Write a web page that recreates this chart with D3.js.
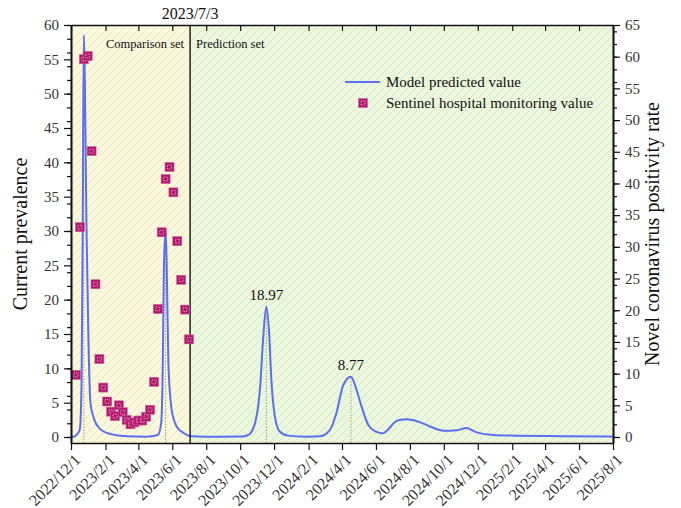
<!DOCTYPE html>
<html>
<head>
<meta charset="utf-8">
<script src="https://cdn.jsdelivr.net/npm/d3@7"></script>
<style>
  body { margin: 0; background: #fff; }
  svg { display: block; }
  svg text { font-family: 'Liberation Serif', 'Tinos', 'DejaVu Serif', serif; }
</style>
</head>
<body>
<div id="chart"></div>
<script>
// model curve (left axis)
const modelDates = [
  '2022-12-01', '2022-12-05', '2022-12-13', '2022-12-17', '2022-12-20', '2022-12-22', '2022-12-24',
  '2022-12-29', '2023-01-01', '2023-01-05', '2023-01-12', '2023-01-21', '2023-02-09', '2023-03-11',
  '2023-04-15', '2023-05-06', '2023-05-12', '2023-05-15', '2023-05-17', '2023-05-20', '2023-05-22',
  '2023-05-25', '2023-05-31', '2023-06-09', '2023-06-21', '2023-07-02', '2023-08-01', '2023-10-05',
  '2023-10-16', '2023-10-28', '2023-11-06', '2023-11-12', '2023-11-17', '2023-11-22', '2023-11-26',
  '2023-12-02', '2023-12-11', '2023-12-26', '2024-01-28', '2024-02-21', '2024-03-10', '2024-03-22',
  '2024-04-03', '2024-04-17', '2024-04-27', '2024-05-04', '2024-05-18', '2024-06-01', '2024-06-13',
  '2024-06-25', '2024-07-04', '2024-07-13', '2024-07-27', '2024-08-14', '2024-09-07', '2024-10-01',
  '2024-10-25', '2024-11-10', '2024-11-29', '2024-12-29', '2025-02-09', '2025-05-01', '2025-08-01'
];
const modelValues = [
  0.03, 0.05, 0.5, 1.2, 8, 30, 58.5,
  30, 15.6, 4.9, 2.5, 1.3, 0.45, 0.1,
  0.05, 0.3, 2.0, 10.8, 25, 30.2, 25,
  10.8, 3.9, 1.5, 0.6, 0.15, 0.05, 0.08,
  0.3, 2.1, 7.4, 15.2, 18.97, 15.2, 8.4,
  3.2, 0.8, 0.2, 0.05, 0.1, 1.0, 3.5,
  7.5, 8.77, 6.9, 5.0, 1.8, 0.78, 0.53,
  1.26, 2.1, 2.47, 2.6, 2.3, 1.5, 0.92,
  1.0, 1.3, 0.68, 0.29, 0.2, 0.12, 0.08
];

// sentinel hospital positivity (right axis), weekly
const sentinelDates = [
  '2022-12-10', '2022-12-17', '2022-12-24', '2022-12-31', '2023-01-07', '2023-01-14',
  '2023-01-21', '2023-01-28', '2023-02-04', '2023-02-11', '2023-02-18', '2023-02-25',
  '2023-03-04', '2023-03-11', '2023-03-18', '2023-03-25', '2023-04-01', '2023-04-08',
  '2023-04-15', '2023-04-22', '2023-04-29', '2023-05-06', '2023-05-13', '2023-05-20',
  '2023-05-27', '2023-06-03', '2023-06-10', '2023-06-17', '2023-06-24', '2023-07-01'
];
const sentinelValues = [
  9.8, 33.1, 59.6, 60.1, 45.1, 24.1,
  12.3, 7.8, 5.6, 4.0, 3.3, 5.0,
  3.9, 2.7, 2.0, 2.3, 2.6, 2.6,
  3.2, 4.3, 8.7, 20.2, 32.3, 40.7,
  42.6, 38.6, 30.9, 24.8, 20.1, 15.4
];

const peakDates = ['2022-12-24', '2023-05-20', '2023-11-17', '2024-04-17'];
const peakValues = [58.5, 30.2, 18.97, 8.77];
const peakLabels = ['', '', '18.97', '8.77'];

const splitDate = '2023-07-03';
const splitLabel = '2023/7/3';
const phaseLabels = ['Comparison set', 'Prediction set'];
const legendLabels = ['Model predicted value', 'Sentinel hospital monitoring value'];
const axisTitles = ['Current prevalence', 'Novel coronavirus positivity rate'];

const xTickDates = [
  '2022-12-01', '2023-02-01', '2023-04-01', '2023-06-01', '2023-08-01', '2023-10-01',
  '2023-12-01', '2024-02-01', '2024-04-01', '2024-06-01', '2024-08-01', '2024-10-01',
  '2024-12-01', '2025-02-01', '2025-04-01', '2025-06-01', '2025-08-01'
];

const FONT = "'Liberation Serif', 'Tinos', 'DejaVu Serif', serif";

const chart = {
  width: 681,
  height: 508,
  left: 71,
  right: 613,
  top: 25,
  bottom: 443,
  zero: 437,
  lineColor: '#5a6ff2',
  markColor: '#b0166a',

  init() {
    const parse = d3.timeParse('%Y-%m-%d');
    this.parse = parse;

    this.svg = d3.select('#chart').append('svg')
      .attr('width', this.width)
      .attr('height', this.height)
      .attr('font-family', FONT);

    this.x = d3.scaleTime()
      .domain([parse(xTickDates[0]), parse(xTickDates[xTickDates.length - 1])])
      .range([this.left, this.right]);
    this.yL = d3.scaleLinear().domain([0, 60]).range([this.zero, this.top]);
    this.yR = d3.scaleLinear().domain([0, 65]).range([this.zero, this.top]);

    this.drawBackground();
    this.drawPeaks();
    this.drawModel();
    this.drawSplit();
    this.drawSentinel();
    this.drawAxes();
    this.drawLegend();
  },

  drawBackground() {
    const defs = this.svg.append('defs');
    const pat = defs.append('pattern')
      .attr('id', 'hatch')
      .attr('patternUnits', 'userSpaceOnUse')
      .attr('width', 8)
      .attr('height', 8);
    pat.append('path')
      .attr('d', 'M-2,2 l4,-4 M0,8 l8,-8 M6,10 l4,-4')
      .attr('stroke', 'rgba(90,90,70,0.18)')
      .attr('stroke-width', 0.7);

    const xs = this.x(this.parse(splitDate));
    const h = this.bottom - this.top;
    this.svg.append('rect')
      .attr('x', this.left).attr('y', this.top)
      .attr('width', xs - this.left).attr('height', h)
      .attr('fill', '#fbf8dc');
    this.svg.append('rect')
      .attr('x', xs).attr('y', this.top)
      .attr('width', this.right - xs).attr('height', h)
      .attr('fill', '#ebf8de');
    this.svg.append('rect')
      .attr('x', this.left).attr('y', this.top)
      .attr('width', this.right - this.left).attr('height', h)
      .attr('fill', 'url(#hatch)');
  },

  drawPeaks() {
    const g = this.svg.append('g');
    peakDates.forEach((d, i) => {
      const px = this.x(this.parse(d));
      g.append('line')
        .attr('x1', px).attr('x2', px)
        .attr('y1', this.bottom).attr('y2', this.yL(peakValues[i]))
        .attr('stroke', '#8a8a8a')
        .attr('stroke-width', 0.8)
        .attr('stroke-dasharray', '1.5,1.5');
      if (peakLabels[i]) {
        g.append('text')
          .attr('x', px)
          .attr('y', this.yL(peakValues[i]) - 7)
          .attr('text-anchor', 'middle')
          .attr('font-size', 15)
          .attr('fill', '#111')
          .text(peakLabels[i]);
      }
    });
  },

  drawModel() {
    const data = modelDates.map((d, i) => ({ date: this.parse(d), value: modelValues[i] }));
    const line = d3.line()
      .x((d) => this.x(d.date))
      .y((d) => this.yL(d.value))
      .curve(d3.curveMonotoneX);
    this.svg.append('path')
      .datum(data)
      .attr('d', line)
      .attr('fill', 'none')
      .attr('stroke', this.lineColor)
      .attr('stroke-width', 2);
  },

  drawSplit() {
    const xs = this.x(this.parse(splitDate));
    this.svg.append('line')
      .attr('x1', xs).attr('x2', xs)
      .attr('y1', this.top).attr('y2', this.bottom)
      .attr('stroke', '#222')
      .attr('stroke-width', 1.5);
    this.svg.append('text')
      .attr('x', xs).attr('y', 19)
      .attr('text-anchor', 'middle')
      .attr('font-size', 16)
      .attr('fill', '#111')
      .text(splitLabel);
    this.svg.append('text')
      .attr('x', xs - 6).attr('y', 48)
      .attr('text-anchor', 'end')
      .attr('font-size', 12.5)
      .attr('fill', '#111')
      .text(phaseLabels[0]);
    this.svg.append('text')
      .attr('x', xs + 6).attr('y', 48)
      .attr('text-anchor', 'start')
      .attr('font-size', 12.5)
      .attr('fill', '#111')
      .text(phaseLabels[1]);
  },

  marker(sel, cx, cy) {
    sel.append('rect')
      .attr('x', cx - 4.5).attr('y', cy - 4.5)
      .attr('width', 9).attr('height', 9)
      .attr('fill', this.markColor)
      .attr('stroke', '#d0609a')
      .attr('stroke-width', 0.6);
    sel.append('rect')
      .attr('x', cx - 2).attr('y', cy - 2)
      .attr('width', 4).attr('height', 4)
      .attr('fill', 'none')
      .attr('stroke', '#f4b0d2')
      .attr('stroke-width', 0.9)
      .attr('stroke-dasharray', '1,1');
  },

  drawSentinel() {
    const g = this.svg.append('g');
    sentinelDates.forEach((d, i) => {
      this.marker(g, this.x(this.parse(d)), this.yR(sentinelValues[i]));
    });
  },

  styleAxis(g, size) {
    g.attr('font-family', FONT).attr('font-size', size || 15);
    g.selectAll('.domain').attr('stroke', '#111').attr('stroke-width', 1.6);
    g.selectAll('.tick line').attr('stroke', '#111').attr('stroke-width', 1.2);
    g.selectAll('.tick text').attr('fill', '#333');
  },

  drawAxes() {
    const ticks = xTickDates.map((d) => this.parse(d));
    const fmt = d3.timeFormat('%Y/%-m/%-d');

    // top frame with inner ticks
    const top = this.svg.append('g')
      .attr('transform', `translate(0,${this.top})`)
      .call(d3.axisBottom(this.x).tickValues(ticks).tickSize(6).tickSizeOuter(0).tickFormat(''));
    this.styleAxis(top);

    const bottom = this.svg.append('g')
      .attr('transform', `translate(0,${this.bottom})`)
      .call(d3.axisBottom(this.x).tickValues(ticks).tickSize(7).tickSizeOuter(0).tickFormat(fmt));
    this.styleAxis(bottom, 16);
    bottom.selectAll('.tick text')
      .attr('x', 0).attr('y', 0).attr('dy', '0.35em')
      .attr('text-anchor', 'end')
      .attr('transform', 'translate(6,14) rotate(-45)');

    // left axis, domain extended down to the frame
    const yLf = this.yL.copy().domain([this.yL.invert(this.bottom), 60]).range([this.bottom, this.top]);
    const left = this.svg.append('g')
      .attr('transform', `translate(${this.left},0)`)
      .call(d3.axisLeft(yLf).tickValues(this.yL.ticks(24)).tickSize(4).tickSizeOuter(0).tickFormat(''));
    this.styleAxis(left);
    const leftMajor = this.svg.append('g')
      .attr('transform', `translate(${this.left},0)`)
      .call(d3.axisLeft(yLf).tickValues(this.yL.ticks(12)).tickSize(7).tickSizeOuter(0).tickFormat(d3.format('d')).tickPadding(5));
    this.styleAxis(leftMajor);

    const yRf = this.yR.copy().domain([this.yR.invert(this.bottom), 65]).range([this.bottom, this.top]);
    const right = this.svg.append('g')
      .attr('transform', `translate(${this.right},0)`)
      .call(d3.axisRight(yRf).tickValues(this.yR.ticks(26)).tickSize(4).tickSizeOuter(0).tickFormat(''));
    this.styleAxis(right);
    const rightMajor = this.svg.append('g')
      .attr('transform', `translate(${this.right},0)`)
      .call(d3.axisRight(yRf).tickValues(this.yR.ticks(13)).tickSize(7).tickSizeOuter(0).tickFormat(d3.format('d')).tickPadding(5));
    this.styleAxis(rightMajor);

    const midY = (this.top + this.bottom) / 2;
    this.svg.append('text')
      .attr('transform', `translate(27,${midY}) rotate(-90)`)
      .attr('text-anchor', 'middle')
      .attr('font-size', 20)
      .attr('fill', '#111')
      .text(axisTitles[0]);
    this.svg.append('text')
      .attr('transform', `translate(659,${midY}) rotate(-90)`)
      .attr('text-anchor', 'middle')
      .attr('font-size', 20)
      .attr('fill', '#111')
      .text(axisTitles[1]);
  },

  drawLegend() {
    const g = this.svg.append('g');
    g.append('line')
      .attr('x1', 345).attr('x2', 380)
      .attr('y1', 82).attr('y2', 82)
      .attr('stroke', this.lineColor)
      .attr('stroke-width', 2);
    this.marker(g, 363, 103);
    legendLabels.forEach((t, i) => {
      g.append('text')
        .attr('x', 386)
        .attr('y', 82 + i * 21)
        .attr('dy', '0.35em')
        .attr('font-size', 15)
        .attr('fill', '#111')
        .text(t);
    });
  }
};

chart.init();
</script>
</body>
</html>
